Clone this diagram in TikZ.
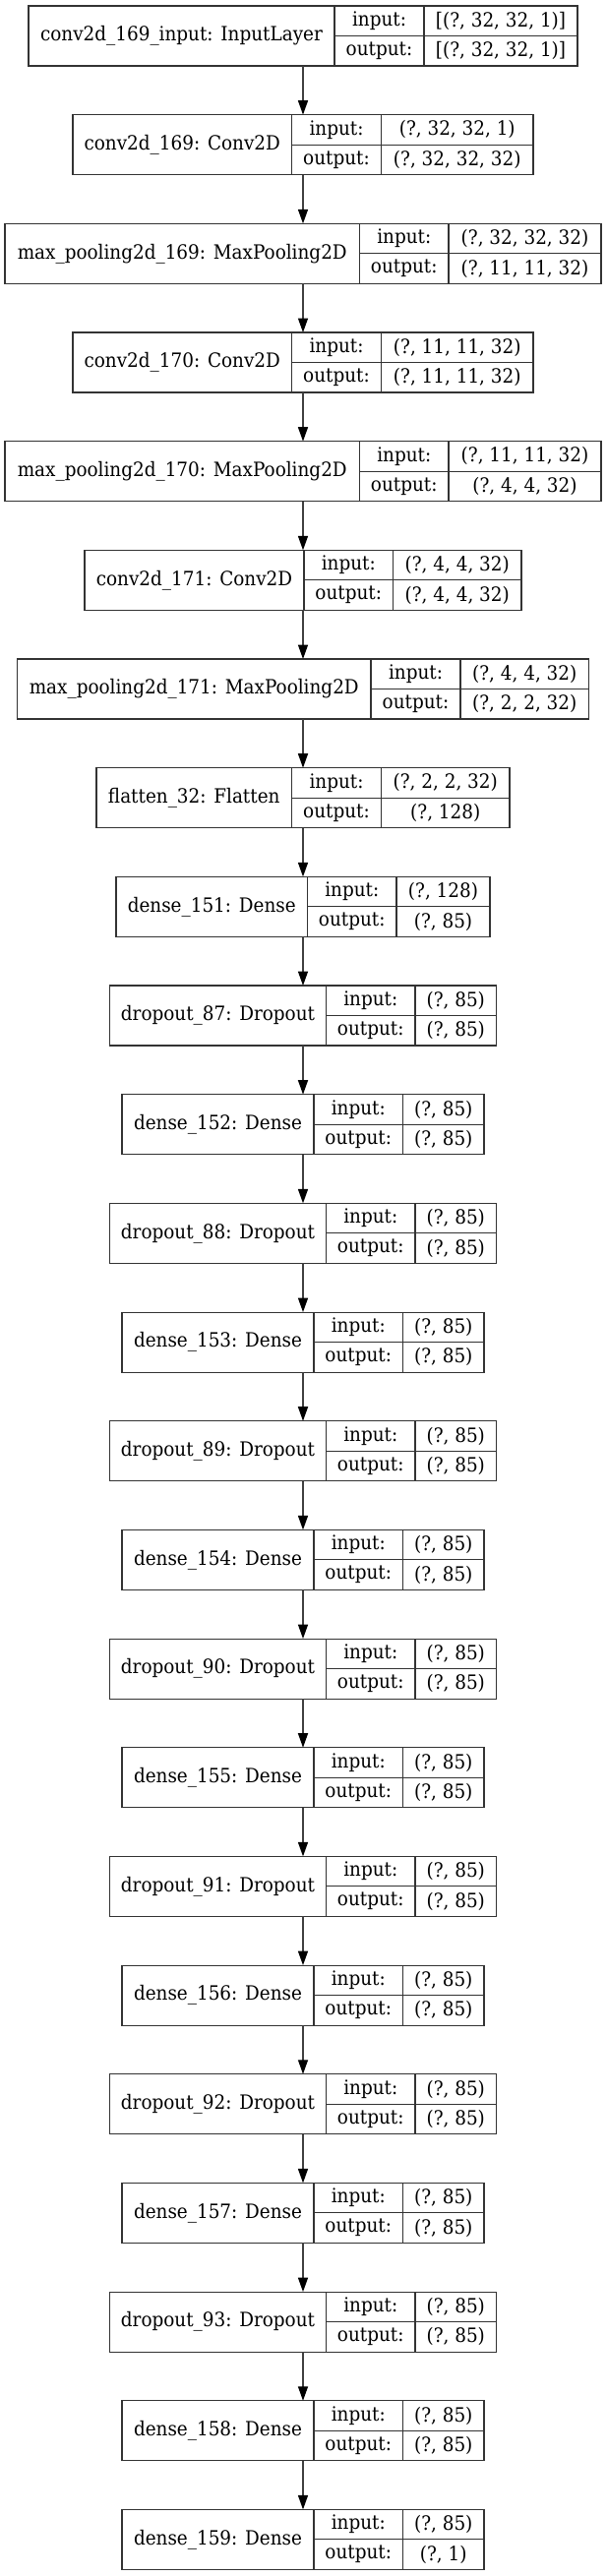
\documentclass[tikz,border=0pt]{standalone}
\usepackage{fontspec}
\setmainfont{DejaVu Serif}[FakeStretch=0.92]
\usetikzlibrary{arrows.meta}
\tikzset{
  layerbox/.style = {draw=black!80, line width=1.1pt, minimum height=61pt,
                     inner sep=0pt, outer sep=0pt},
  cell/.style = {draw=black!80, line width=1.1pt},
  txt/.style = {inner sep=0pt, font=\fontsize{20}{24}\selectfont},
  flow/.style = {draw=black!75, line width=1.4pt,
                 -{Triangle[length=14.5pt, width=10pt, black]}}
}

\begin{document}
\begin{tikzpicture}[x=1pt, y=1pt]
	\def \top{6}
	\def \stp{110.67}
	\def \hh{30.5}

	\useasboundingbox (0,0) rectangle (616,-2619);

	% one layer: name, row, left, divider 1, divider 2, right, label, input, output
	\def \layer#1#2#3#4#5#6#7#8#9{
		\pgfmathsetmacro\yc{-(\top + \hh + (#2-1)*\stp)}
		\node[layerbox, minimum width={(#6-#3)*1pt}] (#1) at ({(#3+#6)/2}, \yc) {};
		\draw[cell] (#4, \yc+\hh) -- (#4, \yc-\hh);
		\draw[cell] (#5, \yc+\hh) -- (#5, \yc-\hh);
		\draw[cell] (#4, \yc) -- (#6, \yc);
		\node[txt] (#1-name) at ({(#3+#4)/2}, \yc) {#7};
		\node[txt] (#1-in)   at ({(#4+#5)/2}, \yc+\hh/2) {input:};
		\node[txt] (#1-out)  at ({(#4+#5)/2}, \yc-\hh/2) {output:};
		\node[txt] (#1-ish)  at ({(#5+#6)/2}, \yc+\hh/2) {#8};
		\node[txt] (#1-osh)  at ({(#5+#6)/2}, \yc-\hh/2) {#9};
	}

	% Convolution part
	\layer{inp}{1}{29}{340}{431}{587}{conv2d\_169\_input: InputLayer}{[(?, 32, 32, 1)]}{[(?, 32, 32, 1)]}
	\layer{c169}{2}{74}{296.5}{387.5}{542}{conv2d\_169: Conv2D}{(?, 32, 32, 1)}{(?, 32, 32, 32)}
	\layer{p169}{3}{5}{365.5}{456}{611}{max\_pooling2d\_169: MaxPooling2D}{(?, 32, 32, 32)}{(?, 11, 11, 32)}
	\layer{c170}{4}{74}{296.5}{387.5}{542}{conv2d\_170: Conv2D}{(?, 11, 11, 32)}{(?, 11, 11, 32)}
	\layer{p170}{5}{5}{365.5}{456}{611}{max\_pooling2d\_170: MaxPooling2D}{(?, 11, 11, 32)}{(?, 4, 4, 32)}
	\layer{c171}{6}{86}{309}{399.5}{530}{conv2d\_171: Conv2D}{(?, 4, 4, 32)}{(?, 4, 4, 32)}
	\layer{p171}{7}{17.5}{377}{468}{598.5}{max\_pooling2d\_171: MaxPooling2D}{(?, 4, 4, 32)}{(?, 2, 2, 32)}
	\layer{flat}{8}{98}{296.5}{387.5}{518}{flatten\_32: Flatten}{(?, 2, 2, 32)}{(?, 128)}

	% Dense part
	\layer{d151}{9}{118}{312.5}{403}{498}{dense\_151: Dense}{(?, 128)}{(?, 85)}
	\layer{do87}{10}{111.5}{331.5}{422}{504.5}{dropout\_87: Dropout}{(?, 85)}{(?, 85)}
	\layer{d152}{11}{124}{319}{409.5}{492}{dense\_152: Dense}{(?, 85)}{(?, 85)}
	\layer{do88}{12}{111.5}{331.5}{422}{504.5}{dropout\_88: Dropout}{(?, 85)}{(?, 85)}
	\layer{d153}{13}{124}{319}{409.5}{492}{dense\_153: Dense}{(?, 85)}{(?, 85)}
	\layer{do89}{14}{111.5}{331.5}{422}{504.5}{dropout\_89: Dropout}{(?, 85)}{(?, 85)}
	\layer{d154}{15}{124}{319}{409.5}{492}{dense\_154: Dense}{(?, 85)}{(?, 85)}
	\layer{do90}{16}{111.5}{331.5}{422}{504.5}{dropout\_90: Dropout}{(?, 85)}{(?, 85)}
	\layer{d155}{17}{124}{319}{409.5}{492}{dense\_155: Dense}{(?, 85)}{(?, 85)}
	\layer{do91}{18}{111.5}{331.5}{422}{504.5}{dropout\_91: Dropout}{(?, 85)}{(?, 85)}
	\layer{d156}{19}{124}{319}{409.5}{492}{dense\_156: Dense}{(?, 85)}{(?, 85)}
	\layer{do92}{20}{111.5}{331.5}{422}{504.5}{dropout\_92: Dropout}{(?, 85)}{(?, 85)}
	\layer{d157}{21}{124}{319}{409.5}{492}{dense\_157: Dense}{(?, 85)}{(?, 85)}
	\layer{do93}{22}{111.5}{331.5}{422}{504.5}{dropout\_93: Dropout}{(?, 85)}{(?, 85)}
	\layer{d158}{23}{124}{319}{409.5}{492}{dense\_158: Dense}{(?, 85)}{(?, 85)}
	\layer{d159}{24}{124}{319}{409.5}{492}{dense\_159: Dense}{(?, 85)}{(?, 1)}

	% Arrows
	\draw[flow] (inp)  -- (c169);
	\draw[flow] (c169) -- (p169);
	\draw[flow] (p169) -- (c170);
	\draw[flow] (c170) -- (p170);
	\draw[flow] (p170) -- (c171);
	\draw[flow] (c171) -- (p171);
	\draw[flow] (p171) -- (flat);
	\draw[flow] (flat) -- (d151);
	\draw[flow] (d151) -- (do87);
	\draw[flow] (do87) -- (d152);
	\draw[flow] (d152) -- (do88);
	\draw[flow] (do88) -- (d153);
	\draw[flow] (d153) -- (do89);
	\draw[flow] (do89) -- (d154);
	\draw[flow] (d154) -- (do90);
	\draw[flow] (do90) -- (d155);
	\draw[flow] (d155) -- (do91);
	\draw[flow] (do91) -- (d156);
	\draw[flow] (d156) -- (do92);
	\draw[flow] (do92) -- (d157);
	\draw[flow] (d157) -- (do93);
	\draw[flow] (do93) -- (d158);
	\draw[flow] (d158) -- (d159);
\end{tikzpicture}
\end{document}
